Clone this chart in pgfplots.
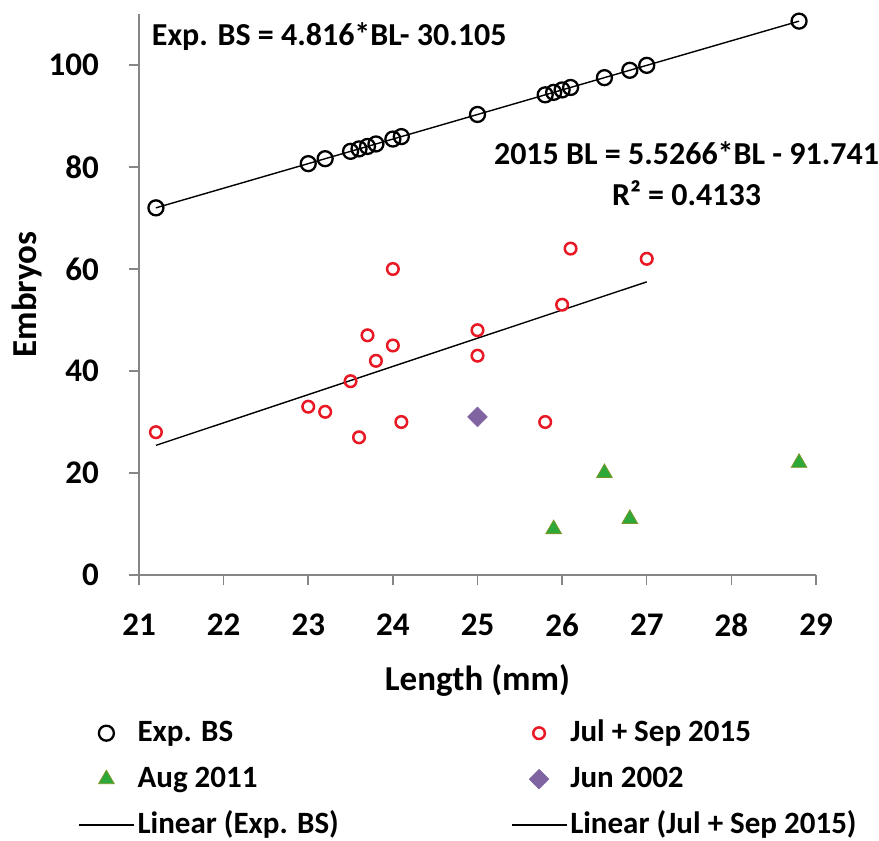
\documentclass[border=0pt]{standalone}
\usepackage{fontspec}
\setmainfont{Carlito}
\usepackage{pgfplots}
\pgfplotsset{compat=1.18}

\definecolor{axgray}{RGB}{134,134,134}
\definecolor{ptred}{RGB}{232,24,36}
\definecolor{ptgreen}{RGB}{46,168,56}
\definecolor{ptgreenedge}{RGB}{120,150,40}
\definecolor{ptpurple}{RGB}{128,100,162}

\begin{document}
\begin{tikzpicture}[font=\fontsize{32bp}{38bp}\selectfont\bfseries]
\useasboundingbox (-139bp,-266bp) rectangle (740bp,575bp);
\begin{axis}[
    at={(0,0)}, anchor=south west,
    scale only axis, width=677bp, height=561bp,
    xmin=21, xmax=29, ymin=0, ymax=110,
    axis x line*=bottom, axis y line*=left,
    axis line style={axgray, line width=1.5bp},
    xtick={21,...,29}, ytick={0,20,...,100},
    tick align=outside, major tick length=10bp,
    tick style={axgray, line width=1.5bp},
    /pgf/number format/assume math mode=true,
    tick label style={font=\fontsize{33bp}{38bp}\selectfont\bfseries, inner sep=0pt},
    xticklabel style={anchor=north, yshift=-29bp},
    yticklabel style={anchor=east, xshift=-30bp},
    xlabel={Length (mm)}, ylabel={Embryos},
    label style={font=\fontsize{35bp}{40bp}\selectfont\bfseries, inner sep=0pt},
    xlabel style={at={(axis description cs:0.5,-0.205)}, anchor=base},
    ylabel style={at={(axis description cs:-0.1507,0.5)}, anchor=base},
    clip=false,
    legend columns=2,
    legend style={draw=none, fill=none, inner sep=0pt,
        at={(-0.0901,-0.2531)}, anchor=north west,
        font=\fontsize{31bp}{36bp}\selectfont\bfseries,
        nodes={inner sep=0pt, text height=24bp, text depth=8bp, anchor=west},
        /tikz/every odd column/.append style={column sep=3bp},
        /tikz/every even column/.append style={column sep=172bp},
        row sep=14bp},
    legend image code/.code={\draw[mark repeat=2,mark phase=2,#1] plot coordinates {(0bp,0bp) (27.5bp,0bp) (55bp,0bp)};},
]
% Exp. BS
\addplot[only marks, mark=o, mark size=7.5bp, mark options={black, line width=2.3bp}] coordinates {
(21.2,71.99) (23.0,80.66) (23.2,81.63) (23.5,83.07) (23.6,83.55) (23.7,84.03)
(23.8,84.52) (24.0,85.48) (24.1,85.96) (25.0,90.30) (25.8,94.15) (25.9,94.63)
(26.0,95.11) (26.1,95.59) (26.5,97.52) (26.8,98.96) (27.0,99.93) (28.8,108.60)};
\addlegendentry{Exp. BS}
% Jul + Sep 2015
\addplot[only marks, mark=o, mark size=5.8bp, mark options={ptred, line width=2.5bp}] coordinates {
(21.2,28) (23.0,33) (23.2,32) (23.5,38) (23.6,27) (23.7,47) (23.8,42) (24.0,45)
(24.0,60) (24.1,30) (25.0,48) (25.0,43) (25.8,30) (26.0,53) (26.1,64) (27.0,62)};
\addlegendentry{Jul + Sep 2015}
% Aug 2011
\addplot[only marks, mark=triangle*, mark size=9bp, mark options={fill=ptgreen, draw=ptgreenedge, line width=0.8bp}] coordinates {
(25.9,9) (26.5,20) (26.8,11) (28.8,22)};
\addlegendentry{Aug 2011}
% Jun 2002
\addplot[only marks, mark=square*, mark size=7bp, mark options={rotate=45, fill=ptpurple, draw=ptpurple}] coordinates {
(25.0,31)};
\addlegendentry{Jun 2002}
% trend lines
\addplot[black, line width=1.4bp] coordinates {(21.2,71.99) (28.8,108.60)};
\addlegendentry{Linear (Exp. BS)}
\addplot[black, line width=1.4bp] coordinates {(21.2,25.42) (27.0,57.48)};
\addlegendentry{Linear (Jul + Sep 2015)}

\node[anchor=base west, inner sep=0pt] at (axis cs:21.15,103.9) {Exp. BS = 4.816*BL- 30.105};
\node[anchor=base, inner sep=0pt] at (axis cs:27.47,80.4) {2015 BL = 5.5266*BL - 91.741};
\node[anchor=base, inner sep=0pt] at (axis cs:27.47,72.5) {R² = 0.4133};
\end{axis}
\end{tikzpicture}
\end{document}
